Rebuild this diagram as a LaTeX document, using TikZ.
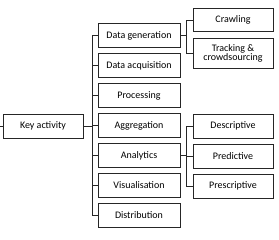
\documentclass[tikz,border=0pt]{standalone}
\usepackage{fontspec}
\setmainfont{Carlito}
\begin{document}
\begin{tikzpicture}[x=1pt,y=-1pt,
  box/.style={draw=black!85,line width=0.8pt,minimum height=24pt,inner sep=1pt,font=\fontsize{10}{11}\selectfont,align=center,anchor=center},
  mid/.style={box,minimum width=82pt},
  rbox/.style={box,minimum width=80pt},
  conn/.style={draw=black!85,line width=0.8pt}]
\useasboundingbox (0,0) rectangle (279,239);
\node[box,minimum width=80pt] (key) at (43,126) {Key activity};
\node[mid] (gen) at (139,35.5) {Data generation};
\node[mid] (acq) at (139,65.5) {Data acquisition};
\node[mid] (proc) at (139,95.5) {Processing};
\node[mid] (agg) at (139,125.5) {Aggregation};
\node[mid] (ana) at (139,155.5) {Analytics};
\node[mid] (vis) at (139,185.5) {Visualisation};
\node[mid] (dist) at (139,215.5) {Distribution};
\node[rbox,minimum height=23pt] (crawl) at (233,20) {Crawling};
\node[rbox,minimum height=30pt] (track) at (233,53) {Tracking \&\\[-2pt] crowdsourcing};
\node[rbox] (desc) at (233,126) {Descriptive};
\node[rbox] (pred) at (233,156) {Predictive};
\node[rbox] (presc) at (233,186) {Prescriptive};
% left stub
\coordinate (lstub) at (0,126);
\draw[conn] (lstub) -- (key.west);
% main trunk
\coordinate (t1) at (92,35.5);
\coordinate (t2) at (92,215.5);
\draw[conn] (t1) -- (t2);
\draw[conn] (key.east) -- (key.east -| t1);
\foreach \n in {gen,acq,proc,agg,ana,vis,dist}{
  \draw[conn] (\n.west -| t1) -- (\n.west);
}
% right trunk 1
\coordinate (r1) at (186,0);
\draw[conn] (gen.east) -- (gen.east -| r1);
\draw[conn] (crawl.west -| r1) -- (track.west -| r1);
\draw[conn] (crawl.west -| r1) -- (crawl.west);
\draw[conn] (track.west -| r1) -- (track.west);
% right trunk 2
\draw[conn] (ana.east) -- (ana.east -| r1);
\draw[conn] (desc.west -| r1) -- (presc.west -| r1);
\foreach \n in {desc,pred,presc}{
  \draw[conn] (\n.west -| r1) -- (\n.west);
}
\end{tikzpicture}
\end{document}
